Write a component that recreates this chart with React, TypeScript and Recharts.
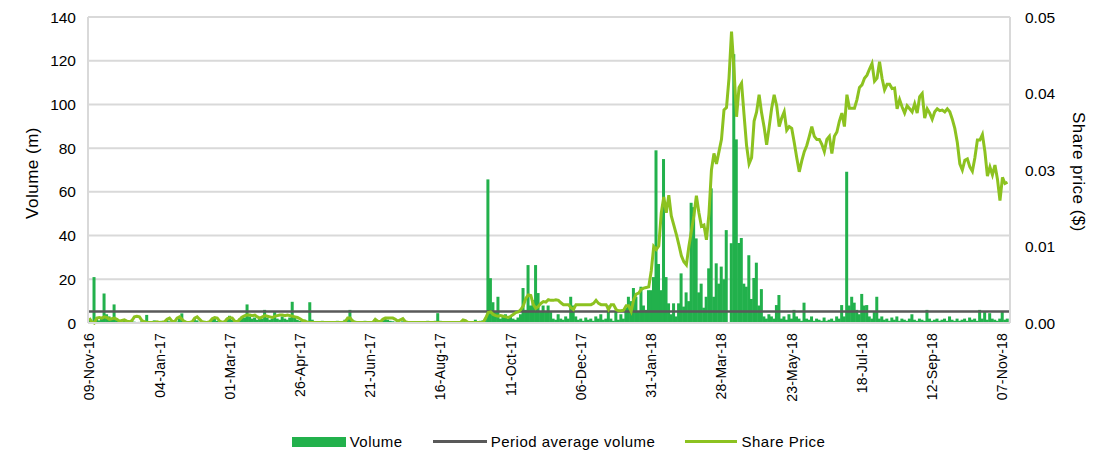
import React from 'react';
import {
  ComposedChart,
  Bar,
  Line,
  XAxis,
  YAxis,
  CartesianGrid,
  ReferenceLine,
} from 'recharts';

// one value every 2 calendar days, starting 09-Nov-16
const STEP_DAYS = 2;
const TICK_STEP_DAYS = 56;

const TICK_LABELS = [
  '09-Nov-16', '04-Jan-17', '01-Mar-17', '26-Apr-17', '21-Jun-17', '16-Aug-17', '11-Oct-17',
  '06-Dec-17', '31-Jan-18', '28-Mar-18', '23-May-18', '18-Jul-18', '12-Sep-18', '07-Nov-18',
];

const VOLUME_TICKS = [0, 20, 40, 60, 80, 100, 120, 140];
const PRICE_TICKS = [0, 0.0125, 0.025, 0.0375, 0.05];
const PRICE_TICK_LABELS = ['0.00', '0.01', '0.03', '0.04', '0.05'];

const AVG_VOLUME = 5.3;

// volume (m)
const VOLUME = [
  1.5, 0.8, 21, 2.5, 1.2, 2, 13.5, 4, 3, 2,
  8.5, 2, 1, 0.5, 1.5, 0.8, 0.4, 1, 0.6, 0.3,
  0.5, 0.8, 1, 3.7, 0.6, 0.4, 1.2, 0.8, 0.5, 1,
  0.6, 1.4, 0.8, 0.5, 1, 0.7, 2, 4.4, 1.2, 0.8,
  0.5, 0.6, 1.8, 1.2, 0.6, 0.5, 1, 0.8, 0.4, 1.5,
  2, 1, 0.6, 0.4, 1, 2, 3.3, 1.5, 0.8, 1.2,
  2, 3, 2.5, 8.5, 3, 2, 2.5, 1.5, 2, 2,
  6, 2.5, 1.5, 2, 5, 2, 1.5, 3, 2, 1.5,
  2.5, 9.7, 3, 1.5, 1, 0.8, 1.5, 1, 9.5, 1.5,
  0.8, 0.6, 0.5, 1, 0.4, 0.6, 0.8, 0.5, 0.4, 1,
  0.6, 0.8, 1.5, 2, 6, 1.5, 1, 0.8, 0.6, 0.5,
  1, 0.6, 0.4, 0.8, 1.5, 1, 0.8, 1.2, 2, 1.5,
  1, 0.8, 0.6, 1, 0.5, 0.8, 0.6, 0.4, 0.5, 0.3,
  0.4, 0.8, 0.6, 0.5, 0.8, 1, 0.6, 0.8, 1, 4.5,
  1, 0.6, 0.3, 0.2, 0.4, 0.3, 0.2, 0.5, 0.4, 0.8,
  1.2, 0.6, 0.4, 0.8, 1.5, 0.6, 1, 1.2, 2, 65.7,
  20.5, 9.5, 5, 12, 2, 3, 4, 2, 3, 2,
  1.5, 2.5, 4, 16, 6, 26.5, 8, 10.5, 26.5, 13.7,
  5, 8, 5, 8, 5, 2, 1.5, 4, 2, 1.5,
  3, 2, 12, 8, 3, 1.5, 2, 1, 2.5, 1.5,
  2, 1, 3, 2, 4, 1.5, 2, 8, 2, 1,
  5, 1.5, 4, 2, 7, 12, 10, 16, 12, 5,
  16.6, 8, 6, 15, 15, 21, 79, 27, 15, 75,
  21, 9, 4, 9, 3, 9, 22.7, 7.5, 14, 10,
  55, 53, 38.7, 14, 18, 7, 12, 25, 61.6, 12,
  27.3, 18, 25.8, 20, 42.5, 0, 36.5, 123, 84, 36.6,
  38.9, 18, 16.6, 31, 11, 20.6, 27.6, 8, 15.5, 3,
  2, 4, 3, 2, 8.2, 12.8, 2, 3, 1.5, 4,
  2, 6, 3, 2, 1, 9.3, 2, 1.5, 3, 1,
  2, 1.5, 1, 2.5, 1, 1.5, 2, 1, 3, 2,
  8.2, 3, 69.2, 8, 12, 9.3, 6, 4, 13.3, 8,
  8.2, 3, 2, 5, 12, 2, 3, 1.5, 2, 1,
  2.5, 1.5, 3, 1, 2, 1.5, 1, 2, 4, 1.5,
  1, 2, 1.5, 1, 6, 2, 1, 1.5, 2, 1,
  1.5, 2, 1, 3, 1.5, 1, 2, 1, 1.5, 2,
  1, 2.5, 1.5, 2, 1, 6, 2, 5, 1.5, 4.5,
  2, 1.5, 1, 2, 5.5, 1.5, 2,
];

// share price ($)
const PRICE = [
  0.0008, 0.0002, 0.0000, 0.0008, 0.0009, 0.0008, 0.0010, 0.0009, 0.0006, 0.0007,
  0.0008, 0.0006, 0.0003, 0.0004, 0.0005, 0.0003, 0.0002, 0.0004, 0.0010, 0.0011,
  0.0010, 0.0004, 0.0002, 0.0001, 0.0001, 0.0001, 0.0001, 0.0002, 0.0001, 0.0001,
  0.0002, 0.0006, 0.0008, 0.0003, 0.0002, 0.0008, 0.0010, 0.0006, 0.0002, 0.0001,
  0.0001, 0.0002, 0.0008, 0.0010, 0.0006, 0.0002, 0.0001, 0.0001, 0.0002, 0.0007,
  0.0009, 0.0008, 0.0003, 0.0001, 0.0002, 0.0007, 0.0009, 0.0008, 0.0003, 0.0002,
  0.0006, 0.0010, 0.0012, 0.0013, 0.0013, 0.0012, 0.0013, 0.0010, 0.0008, 0.0010,
  0.0012, 0.0011, 0.0010, 0.0009, 0.0011, 0.0012, 0.0013, 0.0013, 0.0012, 0.0013,
  0.0012, 0.0011, 0.0010, 0.0009, 0.0007, 0.0004, 0.0003, 0.0001, 0.0001, 0.0001,
  0.0001, 0.0001, 0.0001, 0.0001, 0.0001, 0.0001, 0.0001, 0.0001, 0.0001, 0.0001,
  0.0001, 0.0001, 0.0002, 0.0008, 0.0008, 0.0003, 0.0001, 0.0001, 0.0001, 0.0001,
  0.0001, 0.0001, 0.0001, 0.0001, 0.0006, 0.0003, 0.0002, 0.0006, 0.0008, 0.0008,
  0.0008, 0.0008, 0.0006, 0.0003, 0.0005, 0.0007, 0.0002, 0.0001, 0.0001, 0.0001,
  0.0001, 0.0001, 0.0001, 0.0001, 0.0001, 0.0001, 0.0001, 0.0001, 0.0001, 0.0001,
  0.0001, 0.0001, 0.0001, 0.0001, 0.0001, 0.0001, 0.0001, 0.0001, 0.0001, 0.0005,
  0.0004, 0.0001, 0.0001, 0.0001, 0.0001, 0.0001, 0.0001, 0.0001, 0.0008, 0.0017,
  0.0018, 0.0014, 0.0012, 0.0011, 0.0012, 0.0011, 0.0010, 0.0009, 0.0011, 0.0014,
  0.0017, 0.0018, 0.0022, 0.0028, 0.0040, 0.0046, 0.0045, 0.0030, 0.0024, 0.0027,
  0.0032, 0.0035, 0.0034, 0.0038, 0.0037, 0.0037, 0.0038, 0.0037, 0.0033, 0.0030,
  0.0030, 0.0030, 0.0025, 0.0022, 0.0030, 0.0030, 0.0030, 0.0030, 0.0030, 0.0030,
  0.0030, 0.0032, 0.0037, 0.0032, 0.0030, 0.0030, 0.0030, 0.0022, 0.0030, 0.0030,
  0.0022, 0.0020, 0.0020, 0.0021, 0.0028, 0.0028, 0.0019, 0.0038, 0.0047, 0.0049,
  0.0055, 0.0057, 0.0058, 0.0059, 0.0085, 0.0125, 0.0120, 0.0126, 0.0180, 0.0206,
  0.0180, 0.0209, 0.0175, 0.0160, 0.0145, 0.0128, 0.0110, 0.0100, 0.0095, 0.0125,
  0.0150, 0.0175, 0.0208, 0.0180, 0.0158, 0.0160, 0.0136, 0.0178, 0.0250, 0.0277,
  0.0260, 0.0280, 0.0300, 0.0348, 0.0352, 0.0400, 0.0476, 0.0413, 0.0337, 0.0385,
  0.0392, 0.0340, 0.0290, 0.0260, 0.0270, 0.0330, 0.0345, 0.0373, 0.0343, 0.0320,
  0.0291, 0.0320, 0.0351, 0.0373, 0.0355, 0.0321, 0.0335, 0.0345, 0.0315, 0.0321,
  0.0318, 0.0295, 0.0270, 0.0247, 0.0265, 0.0280, 0.0290, 0.0305, 0.0321, 0.0305,
  0.0300, 0.0300, 0.0292, 0.0280, 0.0300, 0.0305, 0.0277, 0.0305, 0.0312, 0.0330,
  0.0343, 0.0321, 0.0373, 0.0351, 0.0351, 0.0351, 0.0365, 0.0385, 0.0389, 0.0400,
  0.0405, 0.0415, 0.0424, 0.0395, 0.0400, 0.0427, 0.0400, 0.0381, 0.0390, 0.0390,
  0.0383, 0.0384, 0.0350, 0.0365, 0.0353, 0.0343, 0.0355, 0.0350, 0.0345, 0.0358,
  0.0343, 0.0370, 0.0375, 0.0335, 0.0350, 0.0343, 0.0333, 0.0345, 0.0350, 0.0347,
  0.0348, 0.0345, 0.0350, 0.0345, 0.0333, 0.0318, 0.0295, 0.0260, 0.0250, 0.0266,
  0.0268, 0.0255, 0.0248, 0.0270, 0.0299, 0.0299, 0.0308, 0.0280, 0.0240, 0.0255,
  0.0242, 0.0258, 0.0235, 0.0200, 0.0238, 0.0228, 0.0230,
];

const data = VOLUME.map((v, i) => ({ day: i * STEP_DAYS, volume: v, price: PRICE[i] }));
const tickDays = TICK_LABELS.map((_, i) => i * TICK_STEP_DAYS);

const FONT = '"Liberation Sans", Arial, sans-serif';
const GRID = '#d9d9d9';
const BAR_GREEN = '#22b14c';
const PRICE_GREEN = '#8cc220';
const AVG_GREY = '#595959';

const XTick = (props: any) => {
  const { x, y, payload } = props;
  const idx = tickDays.indexOf(payload.value);
  return (
    <text
      x={x}
      y={y}
      transform={`rotate(-90 ${x} ${y})`}
      textAnchor="end"
      dominantBaseline="central"
      fontFamily={FONT}
      fontSize={14}
      letterSpacing={0.2}
      fill="#000"
    >
      {TICK_LABELS[idx]}
    </text>
  );
};

// daily bars: a touch wider than the band recharts gives them so dense runs read as solid
const VolumeBar = (props: any) => {
  const { x, y, width, height } = props;
  if (!height || height <= 0) return null;
  const cx = x + width / 2;
  return <rect x={cx - 1.5} y={y} width={3} height={height} fill={BAR_GREEN} />;
};

const LegendItem = ({ swatch, label }: { swatch: React.ReactNode; label: string }) => (
  <div style={{ display: 'flex', alignItems: 'center', gap: 4 }}>
    {swatch}
    <span>{label}</span>
  </div>
);

export default function App() {
  return (
    <div style={{ position: 'absolute', left: 0, top: 0, width: 1112, height: 454, background: '#fff' }}>
      <ComposedChart
        width={1112}
        height={454}
        data={data}
        margin={{ top: 17, right: 0, bottom: 51, left: 0 }}
      >
        <CartesianGrid yAxisId="left" vertical={false} stroke={GRID} strokeWidth={2} />
        <XAxis
          dataKey="day"
          type="number"
          domain={[-1, 734]}
          ticks={tickDays}
          interval={0}
          height={80}
          tick={<XTick />}
          tickLine={false}
          tickSize={0}
          tickMargin={10}
          axisLine={{ stroke: GRID, strokeWidth: 2 }}
        />
        <YAxis
          yAxisId="left"
          orientation="left"
          width={88}
          domain={[0, 140]}
          ticks={VOLUME_TICKS}
          interval={0}
          tickLine={false}
          tickSize={0}
          tickMargin={12}
          axisLine={{ stroke: GRID, strokeWidth: 2 }}
          tick={{ fontSize: 15.5, fill: '#000', fontFamily: FONT }}
        />
        <YAxis
          yAxisId="right"
          orientation="right"
          width={102}
          domain={[0, 0.05]}
          ticks={PRICE_TICKS}
          interval={0}
          tickLine={false}
          tickSize={0}
          tickMargin={15}
          axisLine={{ stroke: GRID, strokeWidth: 2 }}
          tick={{ fontSize: 15.5, fill: '#000', fontFamily: FONT }}
          tickFormatter={(v: number) => PRICE_TICK_LABELS[PRICE_TICKS.indexOf(v)]}
        />
        <Bar
          yAxisId="left"
          dataKey="volume"
          fill={BAR_GREEN}
          barSize={2}
          shape={<VolumeBar />}
          isAnimationActive={false}
        />
        <ReferenceLine yAxisId="left" y={AVG_VOLUME} stroke={AVG_GREY} strokeWidth={2.5} />
        <Line
          yAxisId="right"
          type="linear"
          dataKey="price"
          stroke={PRICE_GREEN}
          strokeWidth={3}
          dot={false}
          isAnimationActive={false}
        />
      </ComposedChart>

      {/* axis titles */}
      <div
        style={{
          position: 'absolute', left: 33, top: 173, transform: 'translate(-50%, -50%) rotate(-90deg)',
          fontFamily: FONT, fontSize: 17, letterSpacing: 0.5, whiteSpace: 'nowrap', color: '#000',
        }}
      >
        Volume (m)
      </div>
      <div
        style={{
          position: 'absolute', left: 1078, top: 172, transform: 'translate(-50%, -50%) rotate(90deg)',
          fontFamily: FONT, fontSize: 17, letterSpacing: 0.5, whiteSpace: 'nowrap', color: '#000',
        }}
      >
        Share price ($)
      </div>

      {/* legend */}
      <div
        style={{
          position: 'absolute', left: 0, top: 433, width: 1112, display: 'flex', justifyContent: 'center',
          gap: 30, fontFamily: FONT, fontSize: 15, letterSpacing: 0.5, color: '#000', paddingLeft: 5,
          boxSizing: 'border-box',
        }}
      >
        <LegendItem swatch={<div style={{ width: 54, height: 10, background: BAR_GREEN }} />} label="Volume" />
        <LegendItem swatch={<div style={{ width: 54, height: 2.5, background: AVG_GREY }} />} label="Period average volume" />
        <LegendItem swatch={<div style={{ width: 52, height: 2.5, background: PRICE_GREEN }} />} label="Share Price" />
      </div>
    </div>
  );
}
